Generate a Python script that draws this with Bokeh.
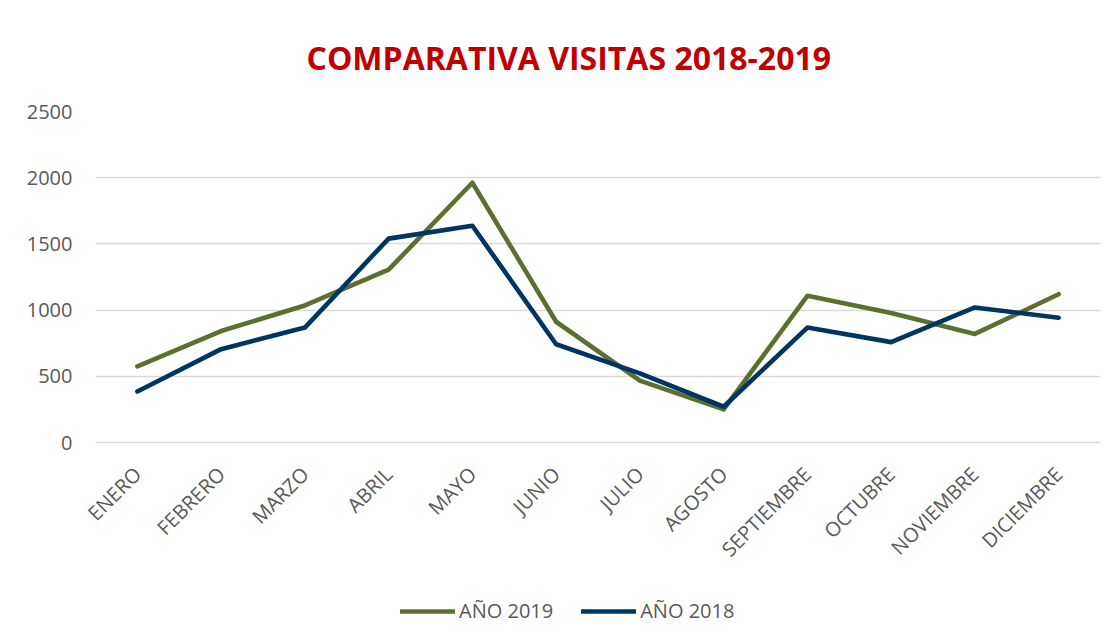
import math
from bokeh.plotting import figure
from bokeh.layouts import column
from bokeh.models import Legend, LegendItem, FactorRange, Range1d, FixedTicker, Title
from bokeh.embed import file_html
from bokeh.resources import INLINE

months = ["ENERO", "FEBRERO", "MARZO", "ABRIL", "MAYO", "JUNIO", "JULIO",
          "AGOSTO", "SEPTIEMBRE", "OCTUBRE", "NOVIEMBRE", "DICIEMBRE"]
visitas_2019 = [575, 842, 1035, 1305, 1962, 912, 467, 250, 1108, 978, 820, 1120]
visitas_2018 = [385, 705, 868, 1540, 1637, 742, 522, 270, 868, 758, 1020, 942]
y_ticks = [0, 500, 1000, 1500, 2000, 2500]
series_names = ["AÑO 2019", "AÑO 2018"]

GREEN = "#5B6F31"
BLUE = "#003462"
FONT = "Open Sans"
GRAY = "#595959"

p = figure(x_range=FactorRange(*months, range_padding=0),
           y_range=Range1d(0, 2500),
           width=1102, height=574, output_backend="svg", toolbar_location=None,
           min_border_left=95, min_border_right=2, min_border_top=110,
           min_border_bottom=131)
p.outline_line_color = None

t = Title(text="COMPARATIVA VISITAS 2018-2019", align="left",
          text_font=FONT, text_font_size="32px", text_font_style="bold",
          text_color="#C00000", offset=211, standoff=66)
p.add_layout(t, "above")

p.line(months, visitas_2019, line_color=GREEN, line_width=4.6,
       line_cap="round", line_join="round")
p.line(months, visitas_2018, line_color=BLUE, line_width=4.6,
       line_cap="round", line_join="round")

p.yaxis.ticker = FixedTicker(ticks=y_ticks)
p.yaxis.axis_line_color = None
p.yaxis.major_tick_line_color = None
p.yaxis.minor_tick_line_color = None
p.yaxis.major_label_text_font = FONT
p.yaxis.major_label_text_font_size = "20px"
p.yaxis.major_label_text_color = GRAY
p.yaxis.major_label_standoff = 17

p.xaxis.axis_line_color = "#d9d9d9"
p.xaxis.axis_line_width = 1.5
p.xaxis.major_tick_line_color = None
p.xaxis.minor_tick_line_color = None
p.xaxis.major_label_orientation = math.pi / 4
p.xaxis.major_label_text_font = FONT
p.xaxis.major_label_text_font_size = "20px"
p.xaxis.major_label_text_color = GRAY
p.xaxis.major_label_standoff = 22

p.xgrid.grid_line_color = None
p.ygrid.grid_line_color = "#d9d9d9"
p.ygrid.grid_line_width = 1.5

# legend strip below the chart (series drawn out of view, used only as legend keys)
lg = figure(width=1102, height=50, output_backend="svg", toolbar_location=None,
            x_range=FactorRange(*months, range_padding=0),
            y_range=Range1d(5000, 5001),
            x_axis_location=None, y_axis_location=None,
            min_border_left=0, min_border_right=0, min_border_top=0,
            min_border_bottom=0)
lg.grid.visible = False
lg.outline_line_color = None
k19 = lg.line(months, visitas_2019, line_color=GREEN, line_width=4.6, line_cap="round")
k18 = lg.line(months, visitas_2018, line_color=BLUE, line_width=4.6, line_cap="round")
legend = Legend(items=[LegendItem(label=series_names[0], renderers=[k19]),
                       LegendItem(label=series_names[1], renderers=[k18])],
                orientation="horizontal", location=(305, 0),
                label_text_font=FONT, label_text_font_size="20px",
                label_text_color=GRAY, glyph_width=55, glyph_height=20,
                label_standoff=4, spacing=28, border_line_color=None,
                background_fill_alpha=0, margin=0, padding=4)
lg.add_layout(legend)

layout = column(p, lg, spacing=0)
open("out.html", "w").write(file_html(layout, INLINE))
